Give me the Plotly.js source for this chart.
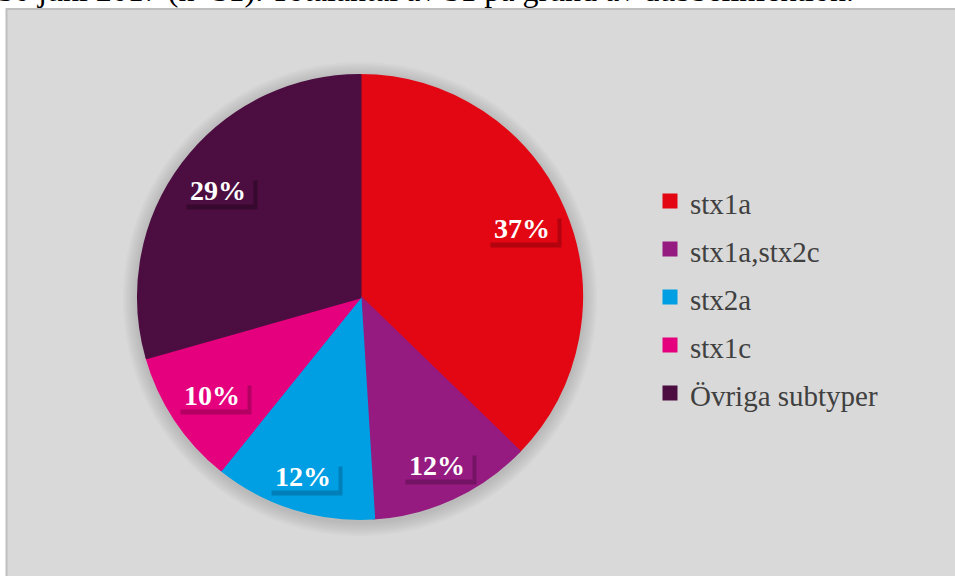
<!DOCTYPE html>
<html>
<head>
<meta charset="utf-8">
<script src="https://cdn.plot.ly/plotly-3.0.1.min.js"></script>
<style>
  html, body { margin: 0; padding: 0; background: #ffffff; }
  #chart { width: 955px; height: 576px; }
</style>
</head>
<body>
<div id="chart"></div>
<script>
// Data
const categories = ["stx1a", "stx1a,stx2c", "stx2a", "stx1c", "Övriga subtyper"];
const counts = [19, 6, 6, 5, 15];
const colors = ["#e30613", "#951b81", "#009fe3", "#e5007e", "#4c0d40"];
const shadowColors = ["#7a0008", "#500b45", "#005a85", "#7a0042", "#22051c"];
const titleText = "30 juni 2017 (n=51). Totalantal av 51 på grund av dubbelinfektion.";

const W = 955, H = 576;
const cx = 360, cy = 297, R = 223;
const lw = 3;
const Rd = R - lw / 2;
const domX = [(cx - Rd) / W, (cx + Rd) / W];
const domY = [1 - (cy + Rd) / H, 1 - (cy - Rd) / H];

// label boxes: placed "inside end", outer corner at distance D from centre
const boxW = 70, boxH = 28, D = R - 9;
const total = counts.reduce((a, b) => a + b, 0);
const annotations = [];
let cum = 0;
counts.forEach((v, i) => {
  const mid = (cum + v / 2) / total * 2 * Math.PI;
  cum += v;
  const s = Math.sin(mid), c = -Math.cos(mid);
  const a = (boxW / 2) * Math.sign(s), b = (boxH / 2) * Math.sign(c);
  const p = s * a + c * b;
  const t = -p + Math.sqrt(p * p - (a * a + b * b - D * D));
  const px = cx + t * s;
  const py = cy + t * c;
  const txt = Math.round(v / total * 100) + "%";
  const base = {
    xref: "paper", yref: "paper",
    x: px / W, y: 1 - py / H,
    xanchor: "center", yanchor: "middle",
    showarrow: false,
    text: "<b>" + txt + "</b>",
    font: { family: "Liberation Serif", size: 28, color: "#ffffff" },
    width: boxW, height: boxH, borderpad: 0
  };
  annotations.push(Object.assign({}, base, {
    bgcolor: shadowColors[i], opacity: 0.45, xshift: 4, yshift: -5,
    font: { family: "Liberation Serif", size: 28, color: shadowColors[i] }
  }));
  annotations.push(Object.assign({}, base, { bgcolor: colors[i] }));
});

annotations.push({
  xref: "paper", yref: "paper", x: -0.004, y: 1 - 10 / H,
  xanchor: "left", yanchor: "bottom", showarrow: false,
  text: titleText,
  font: { family: "Liberation Serif", size: 32, color: "#000000" }
});

const shapes = [{
  type: "rect", xref: "paper", yref: "paper", layer: "below",
  x0: 6.5 / W, x1: 1.02, y0: -0.02, y1: 1 - 9 / H,
  fillcolor: "#d9d9d9", line: { color: "#bfbfbf", width: 2 }
}];
// soft shadow around the pie (decoration)
for (let k = 1; k <= 7; k++) {
  const r = R + 2 * k;
  shapes.push({
    type: "circle", xref: "paper", yref: "paper", layer: "below",
    x0: (cx - r) / W, x1: (cx + r) / W,
    y0: 1 - (cy + 2 + r) / H, y1: 1 - (cy + 2 - r) / H,
    fillcolor: "rgba(0,0,0,0.018)", line: { width: 0 }
  });
}

const trace = {
  type: "pie",
  labels: categories.map(c => '<span style="font-size:29px">' + c + '</span>'),
  values: counts,
  sort: false,
  direction: "clockwise",
  rotation: 0,
  marker: { colors: colors, line: { width: lw, color: colors } },
  textinfo: "none",
  hoverinfo: "label+percent",
  domain: { x: domX, y: domY }
};

const layout = {
  width: W, height: H,
  margin: { l: 0, r: 0, t: 0, b: 0 },
  paper_bgcolor: "#ffffff",
  showlegend: true,
  legend: {
    x: 650 / W, y: 1 - 172 / H, xanchor: "left", yanchor: "top",
    font: { family: "Liberation Serif", size: 34.6, color: "#404040" },
    bgcolor: "rgba(0,0,0,0)",
    tracegroupgap: 0
  },
  shapes: shapes,
  annotations: annotations
};

Plotly.newPlot("chart", [trace], layout, { displayModeBar: false, staticPlot: true });
</script>
</body>
</html>
